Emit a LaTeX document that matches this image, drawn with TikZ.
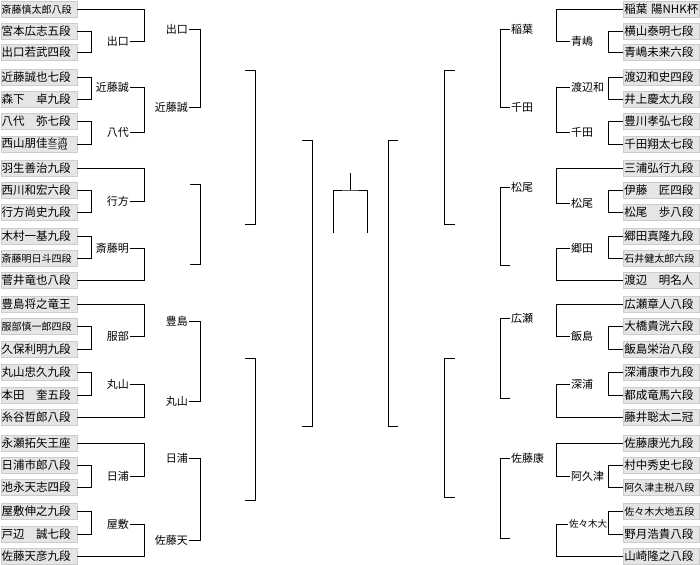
\documentclass[tikz,border=0pt]{standalone}
\usepackage{fontspec}
\usepackage{graphicx}
\setmainfont{Noto Sans CJK JP}
\usepackage{tikz}
\usetikzlibrary{positioning, calc}

\begin{document}
\begin{tikzpicture}[x=1pt, y=-1pt,
  player/.style={rectangle, draw=gray!40, fill=gray!20, text width=74pt,
    minimum height=16pt, inner xsep=1pt, inner ysep=0pt, align=left,
    font=\fontsize{11.5pt}{12pt}\selectfont},
  lplayer/.style={player, anchor=west},
  rplayer/.style={player, anchor=east},
  longname/.style={font=\fontsize{10pt}{12pt}\selectfont},
  winner/.style={inner sep=1pt, font=\fontsize{11pt}{12pt}\selectfont},
  lwin/.style={winner, anchor=east},
  rwin/.style={winner, anchor=west},
  link/.style={line width=0.9pt, black},
]
\useasboundingbox (0,0) rectangle (700,564);
% ====== LEFT HALF: PLAYERS ======
\node[lplayer, longname] (pl1) at (0.5,9.5) {斎藤慎太郎八段};
\node[lplayer] (pl2) at (0.5,31) {宮本広志五段};
\node[lplayer] (pl3) at (0.5,52.5) {出口若武四段};
\node[lplayer] (pl4) at (0.5,77.5) {近藤誠也七段};
\node[lplayer] (pl5) at (0.5,99) {森下　卓九段};
\node[lplayer] (pl6) at (0.5,121.5) {八代　弥七段};
\node[lplayer] (pl7) at (0.5,144)
  {西山朋佳\raisebox{-2.2pt}{\scalebox{1.25}[0.85]{\fontsize{8pt}{8pt}\selectfont\vbox{\offinterlineskip\hbox{女流}\kern1pt\hbox{三冠}}}}};
\node[lplayer] (pl8) at (0.5,168.5) {羽生善治九段};
\node[lplayer] (pl9) at (0.5,190.5) {西川和宏六段};
\node[lplayer] (pl10) at (0.5,212.5) {行方尚史九段};
\node[lplayer] (pl11) at (0.5,236.5) {木村一基九段};
\node[lplayer, longname] (pl12) at (0.5,258.5) {斎藤明日斗四段};
\node[lplayer] (pl13) at (0.5,280.5) {菅井竜也八段};
\node[lplayer] (pl14) at (0.5,304.5) {豊島将之竜王};
\node[lplayer, longname] (pl15) at (0.5,326.5) {服部慎一郎四段};
\node[lplayer] (pl16) at (0.5,349) {久保利明九段};
\node[lplayer] (pl17) at (0.5,372.5) {丸山忠久九段};
\node[lplayer] (pl18) at (0.5,395) {本田　奎五段};
\node[lplayer] (pl19) at (0.5,417.5) {糸谷哲郎八段};
\node[lplayer] (pl20) at (0.5,443) {永瀬拓矢王座};
\node[lplayer] (pl21) at (0.5,465.5) {日浦市郎八段};
\node[lplayer] (pl22) at (0.5,487.5) {池永天志四段};
\node[lplayer] (pl23) at (0.5,511.5) {屋敷伸之九段};
\node[lplayer] (pl24) at (0.5,534) {戸辺　誠七段};
\node[lplayer] (pl25) at (0.5,556.5) {佐藤天彦九段};
%
% ====== LEFT HALF: ROUND 1 ======
\node[lwin] (la1) at (130,41.7) {出口};
\node[lwin] (la2) at (130,87.3) {近藤誠};
\node[lwin] (la3) at (130,132.7) {八代};
\node[lwin] (la4) at (130,201.7) {行方};
\node[lwin] (la5) at (130,248.3) {斎藤明};
\node[lwin] (la6) at (130,336.7) {服部};
\node[lwin] (la7) at (130,384.3) {丸山};
\node[lwin] (la8) at (130,476.7) {日浦};
\node[lwin] (la9) at (130,524) {屋敷};
\draw[link] (pl2.east) -- ++(15,0) |- (pl3.east);
\draw[link] (pl4.east) -- ++(15,0) |- (pl5.east);
\draw[link] (pl6.east) -- ++(15,0) |- (pl7.east);
\draw[link] (pl9.east) -- ++(15,0) |- (pl10.east);
\draw[link] (pl11.east) -- ++(15,0) |- (pl12.east);
\draw[link] (pl15.east) -- ++(15,0) |- (pl16.east);
\draw[link] (pl17.east) -- ++(15,0) |- (pl18.east);
\draw[link] (pl21.east) -- ++(15,0) |- (pl22.east);
\draw[link] (pl23.east) -- ++(15,0) |- (pl24.east);
%
\draw[link] (la1.east) -- ++(14,0) |- (pl1.east);
\draw[link] (la2.east) -- ++(14,0) |- (la3.east);
\draw[link] (la4.east) -- ++(14,0) |- (pl8.east);
\draw[link] (la5.east) -- ++(14,0) |- (pl13.east);
\draw[link] (la6.east) -- ++(14,0) |- (pl14.east);
\draw[link] (la7.east) -- ++(14,0) |- (pl19.east);
\draw[link] (la8.east) -- ++(14,0) |- (pl20.east);
\draw[link] (la9.east) -- ++(14,0) |- (pl25.east);
%
% ====== LEFT HALF: ROUND 2 ======
\node[lwin] (lb1) at (189,29.3) {出口};
\node[lwin] (lb2) at (189,107.3) {近藤誠};
\coordinate (lb3) at (190,184.3);
\coordinate (lb4) at (190,264);
\node[lwin] (lb5) at (189,321) {豊島};
\node[lwin] (lb6) at (189,401) {丸山};
\node[lwin] (lb7) at (189,458.3) {日浦};
\node[lwin] (lb8) at (189,540) {佐藤天};
\draw[link] (lb1.east) -- ++(11,0) |- (lb2.east);
\draw[link] (lb3) -- ++(10,0) |- (lb4);
\draw[link] (lb5.east) -- ++(11,0) |- (lb6.east);
\draw[link] (lb7.east) -- ++(11,0) |- (lb8.east);
%
% ====== LEFT HALF: LATER ROUNDS ======
\coordinate (lc1) at (245,70);
\coordinate (lc2) at (245,224);
\coordinate (lc3) at (245,358);
\coordinate (lc4) at (245,500);
\coordinate (ld1) at (302,140);
\coordinate (ld2) at (302,426);
\draw[link] (lc1) -- ++(10,0) |- (lc2);
\draw[link] (lc3) -- ++(10,0) |- (lc4);
\draw[link] (ld1) -- ++(10,0) |- (ld2);
%
% ====== FINAL ======
\coordinate (ftop) at (350,173);
\coordinate (fbar) at (350,190);
\coordinate (fleft) at (333,233);
\coordinate (fright) at (367,233);
\draw[link] (ftop) -- (fbar);
\draw[link] (fleft) |- (fbar) -| (fright);
%
% ====== RIGHT HALF: PLAYERS ======
\node[rplayer] (pr1) at (699.5,9.5) {稲葉 陽NHK杯};
\node[rplayer] (pr2) at (699.5,31) {横山泰明七段};
\node[rplayer] (pr3) at (699.5,52.5) {青嶋未来六段};
\node[rplayer] (pr4) at (699.5,77.5) {渡辺和史四段};
\node[rplayer] (pr5) at (699.5,99) {井上慶太九段};
\node[rplayer] (pr6) at (699.5,121.5) {豊川孝弘七段};
\node[rplayer] (pr7) at (699.5,144) {千田翔太七段};
\node[rplayer] (pr8) at (699.5,168.5) {三浦弘行九段};
\node[rplayer] (pr9) at (699.5,190.5) {伊藤　匠四段};
\node[rplayer] (pr10) at (699.5,212.5) {松尾　歩八段};
\node[rplayer] (pr11) at (699.5,236.5) {郷田真隆九段};
\node[rplayer, longname] (pr12) at (699.5,258.5) {石井健太郎六段};
\node[rplayer] (pr13) at (699.5,280.5) {渡辺　明名人};
\node[rplayer] (pr14) at (699.5,304.5) {広瀬章人八段};
\node[rplayer] (pr15) at (699.5,326.5) {大橋貴洸六段};
\node[rplayer] (pr16) at (699.5,349) {飯島栄治八段};
\node[rplayer] (pr17) at (699.5,372.5) {深浦康市九段};
\node[rplayer] (pr18) at (699.5,395) {都成竜馬六段};
\node[rplayer] (pr19) at (699.5,417.5) {藤井聡太二冠};
\node[rplayer] (pr20) at (699.5,443) {佐藤康光九段};
\node[rplayer] (pr21) at (699.5,465.5) {村中秀史七段};
\node[rplayer, longname] (pr22) at (699.5,487.5) {阿久津主税八段};
\node[rplayer, longname] (pr23) at (699.5,511.5) {佐々木大地五段};
\node[rplayer] (pr24) at (699.5,534) {野月浩貴八段};
\node[rplayer] (pr25) at (699.5,556.5) {山崎隆之八段};
%
% ====== RIGHT HALF: ROUND 1 ======
\node[rwin] (ra1) at (570,41.7) {青嶋};
\node[rwin] (ra2) at (570,87.3) {渡辺和};
\node[rwin] (ra3) at (570,132.7) {千田};
\node[rwin] (ra4) at (570,203.3) {松尾};
\node[rwin] (ra5) at (570,248.3) {郷田};
\node[rwin] (ra6) at (570,336.7) {飯島};
\node[rwin] (ra7) at (570,384) {深浦};
\node[rwin] (ra8) at (570,476.7) {阿久津};
\node[rwin, font=\fontsize{9.5pt}{12pt}\selectfont] (ra9) at (568,524) {佐々木大};
\draw[link] (pr2.west) -- ++(-15,0) |- (pr3.west);
\draw[link] (pr4.west) -- ++(-15,0) |- (pr5.west);
\draw[link] (pr6.west) -- ++(-15,0) |- (pr7.west);
\draw[link] (pr9.west) -- ++(-15,0) |- (pr10.west);
\draw[link] (pr11.west) -- ++(-15,0) |- (pr12.west);
\draw[link] (pr15.west) -- ++(-15,0) |- (pr16.west);
\draw[link] (pr17.west) -- ++(-15,0) |- (pr18.west);
\draw[link] (pr21.west) -- ++(-15,0) |- (pr22.west);
\draw[link] (pr23.west) -- ++(-15,0) |- (pr24.west);
%
\draw[link] (ra1.west) -- ++(-14,0) |- (pr1.west);
\draw[link] (ra2.west) -- ++(-14,0) |- (ra3.west);
\draw[link] (ra4.west) -- ++(-14,0) |- (pr8.west);
\draw[link] (ra5.west) -- ++(-14,0) |- (pr13.west);
\draw[link] (ra6.west) -- ++(-14,0) |- (pr14.west);
\draw[link] (ra7.west) -- ++(-14,0) |- (pr19.west);
\draw[link] (ra8.west) -- ++(-14,0) |- (pr20.west);
\draw[link] (ra9.west) -- ++(-12,0) |- (pr25.west);
%
% ====== RIGHT HALF: ROUND 2 ======
\node[rwin] (rb1) at (510,29.3) {稲葉};
\node[rwin] (rb2) at (510,107.3) {千田};
\node[rwin] (rb3) at (510,187.7) {松尾};
\coordinate (rb4) at (510,265.7);
\node[rwin] (rb5) at (510,318.3) {広瀬};
\coordinate (rb6) at (510,398.3);
\node[rwin] (rb7) at (510,458.3) {佐藤康};
\coordinate (rb8) at (510,538.3);
\draw[link] (rb1.west) -- ++(-10,0) |- (rb2.west);
\draw[link] (rb3.west) -- ++(-10,0) |- (rb4);
\draw[link] (rb5.west) -- ++(-10,0) |- (rb6);
\draw[link] (rb7.west) -- ++(-10,0) |- (rb8);
%
% ====== RIGHT HALF: LATER ROUNDS ======
\coordinate (rc1) at (455,70);
\coordinate (rc2) at (455,224);
\coordinate (rc3) at (455,358);
\coordinate (rc4) at (455,497);
\coordinate (rd1) at (398,140);
\coordinate (rd2) at (398,426);
\draw[link] (rc1) -- ++(-11,0) |- (rc2);
\draw[link] (rc3) -- ++(-11,0) |- (rc4);
\draw[link] (rd1) -- ++(-10,0) |- (rd2);
\end{tikzpicture}
\end{document}
